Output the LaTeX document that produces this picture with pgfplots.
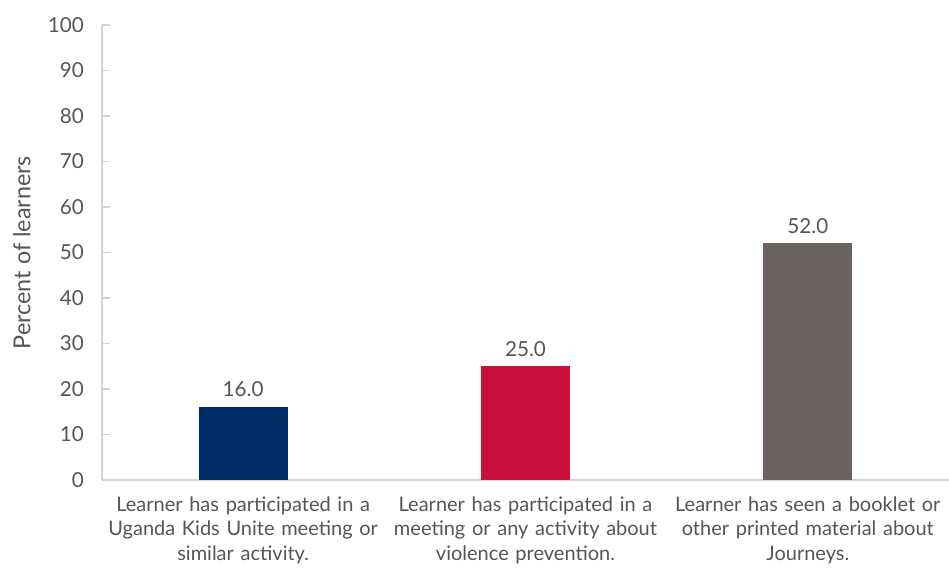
\documentclass[border=0pt]{standalone}
\usepackage{fontspec}
\setmainfont{Lato}
\usepackage{pgfplots}
\pgfplotsset{compat=1.18}
\definecolor{navy}{RGB}{0,42,99}
\definecolor{jred}{RGB}{200,16,58}
\definecolor{jgray}{RGB}{107,99,97}
\definecolor{txt}{RGB}{89,84,82}
\definecolor{axl}{RGB}{210,210,210}
\begin{document}
\begin{tikzpicture}
\useasboundingbox (-76.5pt,-67.5pt) rectangle (635.25pt,360pt);
\begin{axis}[
  at={(0,0)}, anchor=south west,
  scale only axis, width=635.25pt, height=341.25pt,
  xmin=-0.5, xmax=2.5, ymin=0, ymax=100,
  axis lines*=left,
  axis line style={axl, line width=1.2pt},
  ytick={0,10,...,100},
  xtick={0,1,2},
  xticklabels={{Learner has participated in a\\Uganda Kids Unite meeting or\\similar activity.},
               {Learner has participated in a\\meeting or any activity about\\violence prevention.},
               {Learner has seen a booklet or\\other printed material about\\Journeys.}},
  x tick label style={align=center, text width=215pt, font=\fontsize{15}{18.3}\selectfont, text=txt, yshift=-3pt},
  y tick label style={font=\fontsize{15.5}{18}\selectfont, text=txt, xshift=-10pt},
  /pgf/number format/assume math mode=true,
  major x tick style={draw=none},
  major y tick style={axl, line width=1.2pt},
  tick align=inside,
  major tick length=6pt,
  ylabel={Percent of learners},
  every axis y label/.style={at={(axis description cs:0,0.5)}, rotate=90, anchor=center, yshift=60pt, font=\fontsize{17.5}{20}\selectfont, text=txt},
  ybar, bar width=66.75pt, bar shift=0pt,
  nodes near coords={\pgfmathprintnumber[fixed,fixed zerofill,precision=1]{\pgfplotspointmeta}},
  nodes near coords style={font=\fontsize{15.5}{18}\selectfont, text=txt, yshift=4pt},
  clip=false,
]
\addplot[fill=navy, draw=none] coordinates {(0,16)};
\addplot[fill=jred, draw=none] coordinates {(1,25)};
\addplot[fill=jgray, draw=none] coordinates {(2,52)};
\end{axis}
\end{tikzpicture}
\end{document}
